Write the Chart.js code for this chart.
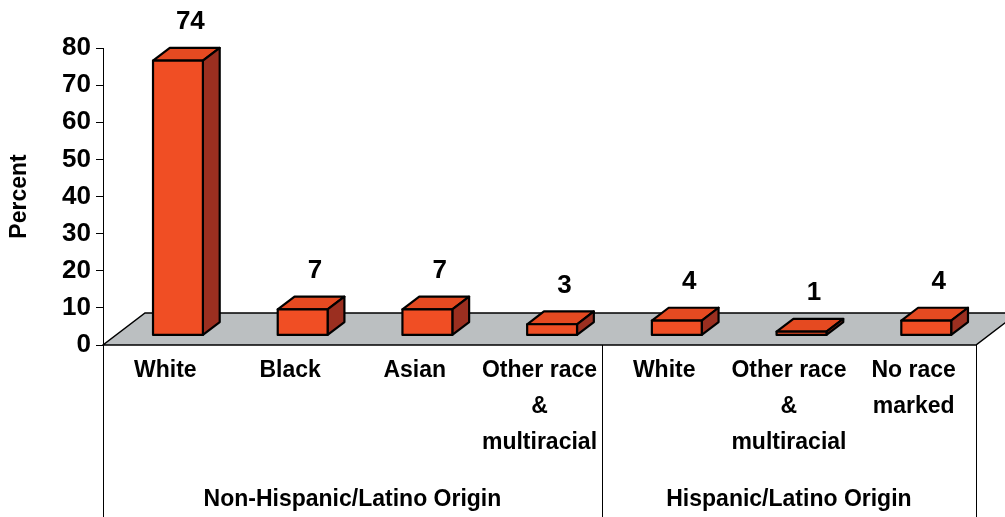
<!DOCTYPE html>
<html lang="en">
<head>
    <meta charset="UTF-8">
    <title>Percent by Race and Origin</title>
    <script src="https://cdn.jsdelivr.net/npm/chart.js"></script>
    <style>
        html, body { margin: 0; padding: 0; background: #fff; }
        #wrap { width: 1005px; height: 517px; }
    </style>
</head>
<body>
    <div id="wrap"><canvas id="raceChart"></canvas></div>

    <script>
        // Data
        const categories = [
            ['White'], ['Black'], ['Asian'], ['Other race', '&', 'multiracial'],
            ['White'], ['Other race', '&', 'multiracial'], ['No race', 'marked']
        ];
        const percents = [74, 7, 7, 3, 4, 1, 4];
        const groupNames = ['Non-Hispanic/Latino Origin', 'Hispanic/Latino Origin'];
        const groupSizes = [4, 3];
        const yMin = 0, yMax = 80, yStep = 10;

        // 3D look
        const FONT = '"Liberation Sans", Arial, sans-serif';
        const FRONT = '#F04E24', TOP = '#E54A21', SIDE = '#9B2F20', FLOOR = '#BBBFC1';
        const DEPTH_X = 42, DEPTH_Y = 32;     // floor depth
        const NEAR = 0.3, FAR = 0.7;          // bar depth inside the floor

        function poly(ctx, pts, fill) {
            ctx.beginPath();
            ctx.moveTo(pts[0][0], pts[0][1]);
            for (let i = 1; i < pts.length; i++) ctx.lineTo(pts[i][0], pts[i][1]);
            ctx.closePath();
            ctx.fillStyle = fill;
            ctx.fill();
            ctx.stroke();
        }

        const box3d = {
            id: 'box3d',
            beforeDatasetsDraw(chart) {
                const { ctx, chartArea: a } = chart;
                ctx.save();
                ctx.strokeStyle = '#000';
                ctx.lineWidth = 1.5;
                poly(ctx, [
                    [a.left, a.bottom], [a.right, a.bottom],
                    [a.right + DEPTH_X, a.bottom - DEPTH_Y], [a.left + DEPTH_X, a.bottom - DEPTH_Y]
                ], FLOOR);
                ctx.restore();
            },
            beforeDatasetDraw(chart, args) {
                const { ctx } = chart;
                const meta = chart.getDatasetMeta(args.index);
                const dx = DEPTH_X * NEAR, dy = DEPTH_Y * NEAR;
                const bx = DEPTH_X * (FAR - NEAR), by = DEPTH_Y * (FAR - NEAR);
                ctx.save();
                ctx.strokeStyle = '#000';
                ctx.lineWidth = 2.2;
                ctx.lineJoin = 'round';
                meta.data.forEach((bar, i) => {
                    const p = bar.getProps(['x', 'y', 'base', 'width'], true);
                    const l = p.x - p.width / 2 + dx, r = p.x + p.width / 2 + dx;
                    const t = p.y - dy, b = p.base - dy;
                    poly(ctx, [[l, t], [r, t], [r + bx, t - by], [l + bx, t - by]], TOP);
                    poly(ctx, [[r, t], [r + bx, t - by], [r + bx, b - by], [r, b]], SIDE);
                    poly(ctx, [[l, t], [r, t], [r, b], [l, b]], FRONT);

                    // value above the box
                    ctx.fillStyle = '#000';
                    ctx.font = 'bold 26px ' + FONT;
                    ctx.textAlign = 'center';
                    ctx.textBaseline = 'middle';
                    ctx.fillText(percents[i], p.x + dx + bx / 2 + 4, t - by - 26);
                });
                ctx.restore();
                return false;
            },
            afterDraw(chart) {
                const { ctx, chartArea: a, scales: { x } } = chart;
                const half = (x.getPixelForValue(1) - x.getPixelForValue(0)) / 2;
                ctx.save();
                ctx.strokeStyle = '#000';
                ctx.lineWidth = 1;
                ctx.fillStyle = '#000';
                ctx.font = 'bold 23px ' + FONT;
                ctx.textAlign = 'center';
                ctx.textBaseline = 'middle';
                let start = 0;
                const edges = [x.getPixelForValue(0) - half];
                groupSizes.forEach((n, g) => {
                    const left = x.getPixelForValue(start) - half;
                    const right = x.getPixelForValue(start + n - 1) + half;
                    edges.push(right);
                    ctx.fillText(groupNames[g], (left + right) / 2, chart.height - 17);
                    start += n;
                });
                edges.forEach(ex => {
                    const px = Math.round(ex) + 0.5;
                    ctx.beginPath();
                    ctx.moveTo(px, a.bottom);
                    ctx.lineTo(px, chart.height);
                    ctx.stroke();
                });
                ctx.restore();
            }
        };

        new Chart(document.getElementById('raceChart'), {
            type: 'bar',
            data: {
                labels: categories,
                datasets: [{
                    data: percents,
                    backgroundColor: FRONT,
                    categoryPercentage: 1,
                    barPercentage: 0.4
                }]
            },
            options: {
                responsive: true,
                maintainAspectRatio: false,
                animation: false,
                layout: { padding: { top: 48, right: 29, bottom: 0, left: 0 } },
                plugins: {
                    legend: { display: false },
                    tooltip: { enabled: false }
                },
                scales: {
                    x: {
                        grid: { display: false, drawTicks: false },
                        border: { display: false },
                        ticks: {
                            autoSkip: false,
                            maxRotation: 0,
                            padding: 8,
                            color: '#000',
                            font: { family: FONT, size: 23, weight: 'bold', lineHeight: '36px' }
                        },
                        afterFit(scale) { scale.height = 172; }
                    },
                    y: {
                        min: yMin,
                        max: yMax,
                        grid: { drawOnChartArea: false, color: '#000', tickLength: 7 },
                        border: { color: '#000', width: 1 },
                        ticks: {
                            stepSize: yStep,
                            padding: 5,
                            color: '#000',
                            font: { family: FONT, size: 26, weight: 'bold' }
                        },
                        title: {
                            display: true,
                            text: 'Percent',
                            color: '#000',
                            padding: { top: 6, bottom: 0 },
                            font: { family: FONT, size: 23, weight: 'bold' }
                        },
                        afterFit(scale) { scale.width = 103; }
                    }
                }
            },
            plugins: [box3d]
        });
    </script>
</body>
</html>
